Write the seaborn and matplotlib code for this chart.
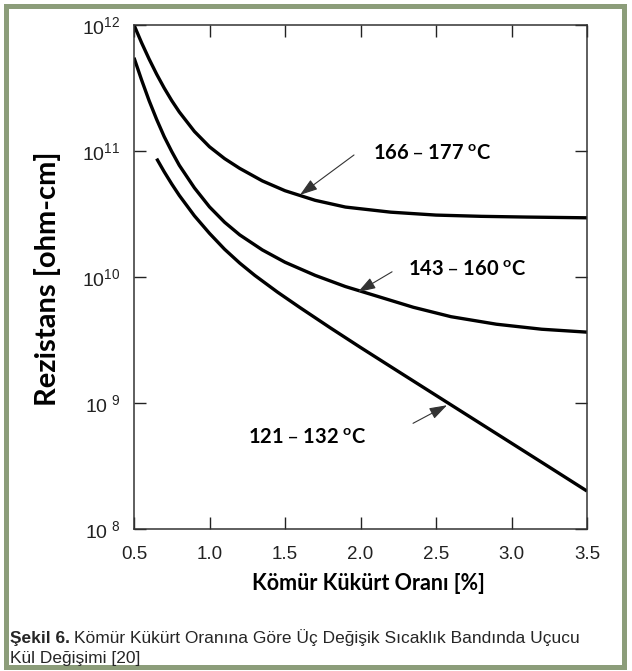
import numpy as np
import pandas as pd
import matplotlib
matplotlib.use("Agg")
import matplotlib.pyplot as plt
import seaborn as sns
from matplotlib.patches import Rectangle

# ---- data ----
band_labels = ["166 – 177", "143 – 160", "121 – 132"]

x_166 = [0.50, 0.55, 0.60, 0.65, 0.70, 0.75, 0.80, 0.90, 1.00, 1.10, 1.20, 1.35, 1.50,
         1.70, 1.90, 2.20, 2.50, 2.80, 3.10, 3.50]
r_166 = [1.0e12, 7.24e11, 5.37e11, 4.07e11, 3.16e11, 2.51e11, 2.04e11, 1.43e11, 1.08e11,
         8.7e10, 7.28e10, 5.79e10, 4.84e10, 4.06e10, 3.59e10, 3.27e10, 3.10e10, 3.03e10,
         2.99e10, 2.95e10]

x_143 = [0.50, 0.55, 0.60, 0.65, 0.70, 0.75, 0.80, 0.90, 1.00, 1.10, 1.20, 1.35, 1.50,
         1.70, 1.90, 2.10, 2.35, 2.60, 2.90, 3.20, 3.50]
r_143 = [5.5e11, 3.67e11, 2.51e11, 1.78e11, 1.30e11, 9.9e10, 7.7e10, 5.1e10, 3.6e10,
         2.72e10, 2.16e10, 1.64e10, 1.31e10, 1.03e10, 8.4e9, 7.1e9, 5.75e9, 4.84e9,
         4.22e9, 3.85e9, 3.65e9]

x_121 = [0.65, 0.70, 0.75, 0.80, 0.90, 1.00, 1.10, 1.20, 1.30, 1.45, 1.60, 1.80, 2.00,
         2.25, 2.50, 2.75, 3.00, 3.25, 3.50]
r_121 = [8.7e10, 6.84e10, 5.47e10, 4.44e10, 3.06e10, 2.22e10, 1.66e10, 1.29e10, 1.03e10,
         7.59e9, 5.71e9, 3.95e9, 2.76e9, 1.78e9, 1.15e9, 7.43e8, 4.80e8, 3.10e8, 2.0e8]

x_ticks = [0.5, 1.0, 1.5, 2.0, 2.5, 3.0, 3.5]
x_tick_labels = ["0.5", "1.0", "1.5", "2.0", "2.5", "3.0", "3.5"]
y_ticks = [1e8, 1e9, 1e10, 1e11, 1e12]
y_tick_labels = [r"$\mathregular{10^{\ 8}}$", r"$\mathregular{10^{\ 9}}$",
                 r"$\mathregular{10^{10}}$", r"$\mathregular{10^{11}}$",
                 r"$\mathregular{10^{12}}$"]

df = pd.concat([
    pd.DataFrame({"x": x_166, "r": r_166, "band": band_labels[0]}),
    pd.DataFrame({"x": x_143, "r": r_143, "band": band_labels[1]}),
    pd.DataFrame({"x": x_121, "r": r_121, "band": band_labels[2]}),
])

# ---- figure ----
sns.set_theme(style="white")
plt.rcParams["font.family"] = ["Liberation Sans", "DejaVu Sans"]

W, H = 632, 671
fig = plt.figure(figsize=(W / 100, H / 100), dpi=100)
fig.patch.set_facecolor("white")

def fx(px):
    return px / W

def fy(py):
    return 1 - py / H

ax = fig.add_axes([fx(134), fy(529), fx(587) - fx(134), fy(25) - fy(529)])

sns.lineplot(data=df, x="x", y="r", hue="band", units="band", estimator=None,
             palette=["black"] * 3, linewidth=2.4, sort=False, legend=False, ax=ax)
for ln in ax.get_lines():
    ln.set_solid_joinstyle("round")
    ln.set_solid_capstyle("butt")

ax.set_yscale("log")
ax.set_xlim(0.5, 3.5)
ax.set_ylim(1e8, 1e12)
ax.set_xticks(x_ticks)
ax.set_xticklabels(x_tick_labels, fontsize=13.5, color="#222222")
ax.set_yticks(y_ticks)
ax.set_yticklabels(y_tick_labels, fontsize=14, color="#222222")
ax.minorticks_off()
ax.tick_params(axis="both", which="major", direction="in", length=8.5, width=1.0,
               color="#222222", top=True, right=True, bottom=True, left=True)
ax.tick_params(axis="x", pad=12)
ax.tick_params(axis="y", pad=10)
for s in ax.spines.values():
    s.set_color("#333333")
    s.set_linewidth(1.1)
ax.set_xlabel("")
ax.set_ylabel("")

# axis titles
fig.text(fx(48), fy(279), "Rezistans [ohm-cm]", rotation=90, ha="center", va="center",
         fontsize=21, fontweight="bold", family=["Lato", "DejaVu Sans"], color="black")
fig.text(fx(368), fy(583), "Kömür Kükürt Oranı [%]", ha="center", va="center",
         fontsize=15.5, fontweight="bold", family=["Lato", "DejaVu Sans"], color="black")

# annotations
arrow_kw = dict(arrowstyle="-|>,head_length=0.9,head_width=0.3", color="#333333",
                lw=0.8, shrinkA=0, shrinkB=0)
ann_font = dict(fontsize=14.5, fontweight="bold", family=["Lato", "DejaVu Sans"],
                color="black", va="center", ha="left")

ax.annotate("", xy=(1.599, 4.48e10), xytext=(1.957, 9.3e10), arrowprops=arrow_kw)
ax.text(2.083, 9.5e10, band_labels[0] + r" $\mathregular{^{o}}$C", **ann_font)

ax.annotate("", xy=(1.983, 7.6e9), xytext=(2.209, 1.1e10), arrowprops=arrow_kw)
ax.text(2.315, 1.14e10, band_labels[1] + r" $\mathregular{^{o}}$C", **ann_font)

ax.annotate("", xy=(2.573, 9.6e8), xytext=(2.348, 6.9e8), arrowprops=arrow_kw)
ax.text(1.255, 5.3e8, band_labels[2] + r" $\mathregular{^{o}}$C", **ann_font)

# caption
cap_fam = ["Liberation Sans", "DejaVu Sans"]
cap_size = 12.5
t1 = fig.text(fx(10), fy(643), "Şekil 6.", ha="left", va="baseline", fontsize=cap_size,
              fontweight="bold", family=cap_fam)
renderer = fig.canvas.get_renderer()
bb = t1.get_window_extent(renderer)
fig.text((bb.x1 + 4) / W, fy(643),
         "Kömür Kükürt Oranına Göre Üç Değişik Sıcaklık Bandında Uçucu",
         ha="left", va="baseline", fontsize=cap_size, family=cap_fam)
fig.text(fx(10), fy(663), "Kül Değişimi [20]", ha="left", va="baseline", fontsize=cap_size,
         family=cap_fam)

# frame
fig.patches.append(Rectangle((fx(6), fy(667)), fx(624) - fx(6), fy(6) - fy(667),
                             transform=fig.transFigure, fill=False,
                             edgecolor="#8c9d7a", linewidth=3.6))

fig.savefig("out.png", dpi=100)
